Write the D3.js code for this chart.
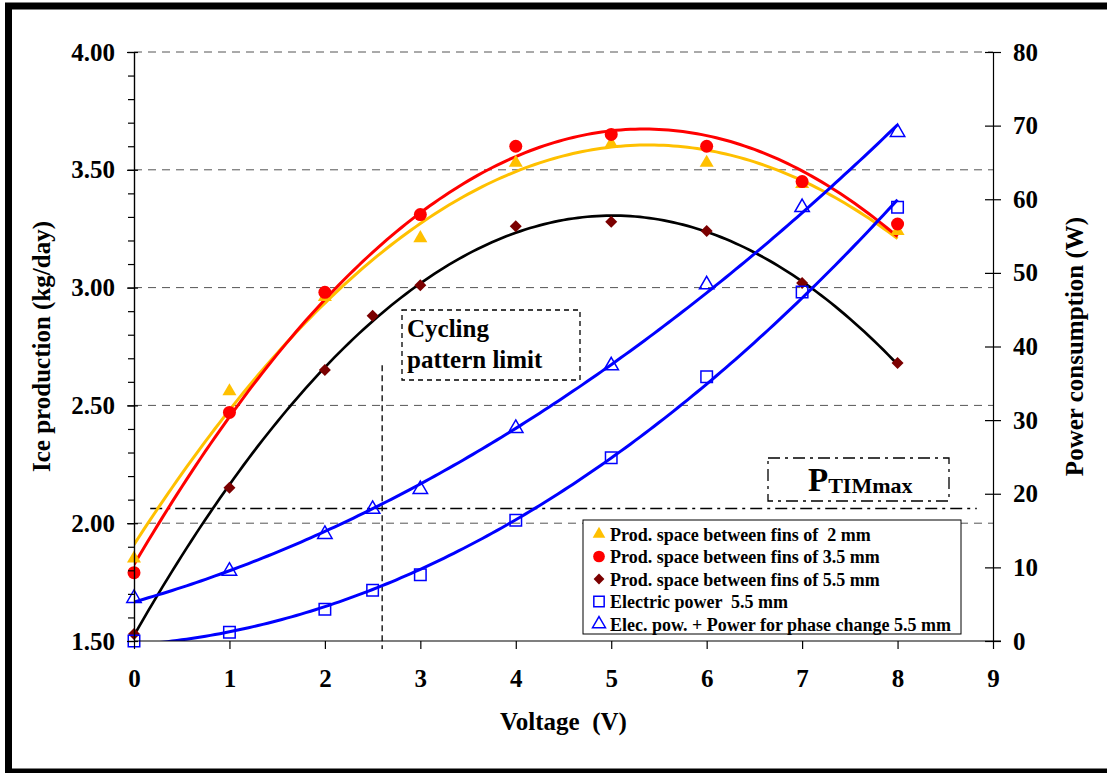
<!DOCTYPE html>
<html>
<head>
<meta charset="utf-8">
<script src="https://cdn.jsdelivr.net/npm/d3@7"></script>
<style>
  body { margin: 0; background: #fff; }
  svg { display: block; }
  text { font-family: "Liberation Serif", "Times New Roman", serif; font-weight: bold; fill: #000; white-space: pre; }
</style>
</head>
<body>
<div id="display"></div>
<script>

// ---- data ----
const voltage = [0, 1, 2, 3, 4, 5, 6, 7, 8]
const voltage55 = [0, 1, 2, 2.5, 3, 4, 5, 6, 7, 8]

const prod2mm  = [1.85, 2.56, 2.96, 3.21, 3.53, 3.61, 3.53, 3.44, 3.24]
const prod35mm = [1.79, 2.47, 2.98, 3.31, 3.60, 3.65, 3.60, 3.45, 3.27]
const prod55mm = [1.53, 2.15, 2.65, 2.88, 3.01, 3.26, 3.28, 3.24, 3.02, 2.68]

const elecPower      = [0.0, 1.2, 4.3, 6.9, 9.0, 16.4, 24.9, 35.9, 47.4, 58.9]
const elecPhasePower = [5.8, 9.5, 14.5, 17.9, 20.6, 28.9, 37.4, 48.4, 58.9, 69.1]

const xTicks = d3.range(0, 10)
const leftTicks = [1.5, 2.0, 2.5, 3.0, 3.5, 4.0]
const leftMinor = d3.range(1.5, 4.01, 0.1)
const rightTicks = d3.range(0, 81, 10)

const ptimMax = 18          // W
const ptimSpan = [0.17, 8.83]
const cyclingLimit = 2.6    // V

const legendLabels = [
  "Prod. space between fins of  2 mm",
  "Prod. space between fins of 3.5 mm",
  "Prod. space between fins of 5.5 mm",
  "Electric power  5.5 mm",
  "Elec. pow. + Power for phase change 5.5 mm"
]

// least squares polynomial fit, used for the trendlines
function polyfit(xs, ys, order) {
  const n = order + 1
  const A = Array.from({length: n}, () => new Array(n + 1).fill(0))
  xs.forEach((x, k) => {
    for (let i = 0; i < n; i++) {
      for (let j = 0; j < n; j++) A[i][j] += Math.pow(x, i + j)
      A[i][n] += ys[k] * Math.pow(x, i)
    }
  })
  for (let i = 0; i < n; i++) {
    let p = i
    for (let r = i + 1; r < n; r++) if (Math.abs(A[r][i]) > Math.abs(A[p][i])) p = r;
    [A[i], A[p]] = [A[p], A[i]]
    for (let r = 0; r < n; r++) {
      if (r === i) continue
      const f = A[r][i] / A[i][i]
      for (let c = i; c <= n; c++) A[r][c] -= f * A[i][c]
    }
  }
  const coef = A.map((row, i) => row[n] / row[i])
  return x => coef.reduce((s, c, i) => s + c * Math.pow(x, i), 0)
}

function chart(parentNode) {
  const width = 1107, height = 773
  const x = d3.scaleLinear([0, 9], [134, 993])
  const yL = d3.scaleLinear([1.5, 4], [641, 52])
  const yR = d3.scaleLinear([0, 80], [641, 52])

  const series = [
    {xs: voltage,   ys: prod2mm,  y: yL, color: "#FFC000", order: 2, marker: "tri",  width: 3},
    {xs: voltage,   ys: prod35mm, y: yL, color: "#FF0000", order: 2, marker: "dot",  width: 3},
    {xs: voltage55, ys: prod55mm, y: yL, color: "#000000", order: 2, marker: "dia",  width: 2.7, mcolor: "#7B0000"},
    {xs: voltage55, ys: elecPower, y: yR, color: "#0000FF", order: 2, marker: "sq",  width: 3},
    {xs: voltage55, ys: elecPhasePower, y: yR, color: "#0000FF", order: 2, marker: "otri", width: 3}
  ]

  const svg = d3.create("svg")
      .attr("width", width)
      .attr("height", height)
      .attr("viewBox", [0, 0, width, height])

  // frame
  svg.append("rect").attr("x", 8.5).attr("y", 6).attr("width", 1120).attr("height", 766)
      .attr("fill", "none").attr("stroke", "#000").attr("stroke-width", 7)

  svg.append("clipPath").attr("id", "plot")
    .append("rect").attr("x", x(0)).attr("y", yL(4)).attr("width", x(9) - x(0)).attr("height", yL(1.5) - yL(4))

  // grid
  svg.append("g")
    .selectAll("line")
    .data(leftTicks.slice(1))
    .join("line")
      .attr("x1", x(0)).attr("x2", x(9))
      .attr("y1", d => yL(d)).attr("y2", d => yL(d))
      .attr("stroke", "#555").attr("stroke-width", 1).attr("stroke-dasharray", "8,6")

  // P TIM max line
  svg.append("line")
      .attr("x1", x(ptimSpan[0])).attr("x2", x(ptimSpan[1]))
      .attr("y1", yR(ptimMax)).attr("y2", yR(ptimMax))
      .attr("stroke", "#000").attr("stroke-width", 1.3).attr("stroke-dasharray", "12,5,3,5")

  // cycling limit line
  svg.append("line")
      .attr("x1", x(cyclingLimit)).attr("x2", x(cyclingLimit))
      .attr("y1", yL(2.67)).attr("y2", yL(1.5) + 8)
      .attr("stroke", "#000").attr("stroke-width", 1.3).attr("stroke-dasharray", "6,4")

  // trendlines
  const curves = svg.append("g").attr("clip-path", "url(#plot)")
  series.forEach(s => {
    const f = polyfit(s.xs, s.ys, s.order)
    const pts = d3.range(0, 8.001, 0.05)
    curves.append("path")
        .datum(pts)
        .attr("fill", "none")
        .attr("stroke", s.color)
        .attr("stroke-width", s.width)
        .attr("d", d3.line(d => x(d), d => s.y(f(d))))
  })

  function marker(g, kind, color, scale) {
    scale = scale || 1
    if (kind === "tri") {
      g.append("path").attr("d", d3.symbol(d3.symbolTriangle, 85 * scale * scale)()).attr("fill", color)
    } else if (kind === "dot") {
      g.append("circle").attr("r", 6.5 * scale).attr("fill", color)
    } else if (kind === "dia") {
      g.append("path").attr("d", d3.symbol(d3.symbolSquare, 72 * scale * scale)())
          .attr("transform", "rotate(45)").attr("fill", color)
    } else if (kind === "sq") {
      g.append("path").attr("d", d3.symbol(d3.symbolSquare, 132 * scale * scale)())
          .attr("fill", "none").attr("stroke", color).attr("stroke-width", 1.5)
    } else if (kind === "otri") {
      g.append("path").attr("d", d3.symbol(d3.symbolTriangle, 90 * scale * scale)())
          .attr("fill", "none").attr("stroke", color).attr("stroke-width", 1.5)
    }
  }

  // markers
  series.forEach(s => {
    s.xs.forEach((v, i) => {
      const g = svg.append("g").attr("transform", `translate(${x(v)},${s.y(s.ys[i])})`)
      marker(g, s.marker, s.mcolor || s.color)
    })
  })

  // axes
  const gx = svg.append("g")
      .attr("transform", `translate(0,${yL(1.5)})`)
      .call(d3.axisBottom(x).tickValues(xTicks).tickFormat(d3.format("d")).tickSize(8).tickPadding(20))
  svg.append("g")
      .attr("transform", `translate(${x(0)},0)`)
      .call(d3.axisLeft(yL).tickValues(leftMinor).tickFormat("").tickSize(6).tickSizeOuter(0))
  svg.append("g")
      .attr("transform", `translate(${x(0)},0)`)
      .call(d3.axisLeft(yL).tickValues(leftTicks).tickFormat(d3.format(".2f")).tickSize(7).tickPadding(12).tickSizeOuter(0))
      .call(g => g.selectAll(".tick line").attr("x2", -7).attr("x1", 4))
  svg.append("g")
      .attr("transform", `translate(${x(9)},0)`)
      .call(d3.axisRight(yR).tickValues(rightTicks).tickSize(8).tickPadding(12).tickSizeOuter(0))
      .call(g => g.selectAll(".tick line").attr("x1", -8))

  svg.selectAll(".domain").attr("stroke", "#000").attr("stroke-width", 1.2)
  svg.selectAll(".tick line").attr("stroke", "#000").attr("stroke-width", 1.2)
  svg.selectAll(".tick text")
      .style("font-family", '"Liberation Serif", "Times New Roman", serif')
      .style("font-weight", "bold")
      .style("font-size", "25px")
      .attr("fill", "#000")
  gx.select(".domain").attr("d", `M${x(0)},0H${x(9) + 8}`)

  // axis titles
  svg.append("text")
      .attr("x", (x(0) + x(9)) / 2).attr("y", 730)
      .attr("text-anchor", "middle").style("font-size", "25px")
      .text("Voltage  (V)")
  svg.append("text")
      .attr("transform", `translate(50,${(yL(1.5) + yL(4)) / 2}) rotate(-90)`)
      .attr("text-anchor", "middle").style("font-size", "25px")
      .text("Ice production (kg/day)")
  svg.append("text")
      .attr("transform", `translate(1083,${(yL(1.5) + yL(4)) / 2}) rotate(-90)`)
      .attr("text-anchor", "middle").style("font-size", "25px")
      .text("Power consumption (W)")

  // cycling pattern box
  const cyc = svg.append("g")
  cyc.append("rect").attr("x", 402).attr("y", 310).attr("width", 178).attr("height", 70)
      .attr("fill", "#fff").attr("stroke", "#000").attr("stroke-width", 1.3).attr("stroke-dasharray", "5,4")
  cyc.append("text").attr("x", 407).attr("y", 337).style("font-size", "25px").text("Cycling")
  cyc.append("text").attr("x", 407).attr("y", 368).style("font-size", "25px").text("pattern limit")

  // P TIM max box
  const pb = svg.append("g")
  pb.append("rect").attr("x", 768).attr("y", 458).attr("width", 181).attr("height", 43)
      .attr("fill", "#fff").attr("stroke", "#000").attr("stroke-width", 1.3).attr("stroke-dasharray", "12,5,3,5")
  const pt = pb.append("text").attr("x", 808).attr("y", 491).style("font-size", "33px")
  pt.append("tspan").text("P")
  pt.append("tspan").attr("dy", 2).style("font-size", "22px").text("TIMmax")

  // legend
  const lg = svg.append("g")
  lg.append("rect").attr("x", 583).attr("y", 520).attr("width", 378).attr("height", 114)
      .attr("fill", "#fff").attr("stroke", "#000").attr("stroke-width", 1)
  series.forEach((s, i) => {
    const cy = 534 + i * 22.5
    const g = lg.append("g").attr("transform", `translate(599,${cy})`)
    marker(g, s.marker, s.mcolor || s.color, 0.9)
    lg.append("text").attr("x", 610).attr("y", cy + 6.5).style("font-size", "18px").text(legendLabels[i])
  })

  parentNode.appendChild(svg.node())
}

document.addEventListener("DOMContentLoaded", () => {
  chart(document.getElementById("display"))
})
</script>
</body>
</html>
